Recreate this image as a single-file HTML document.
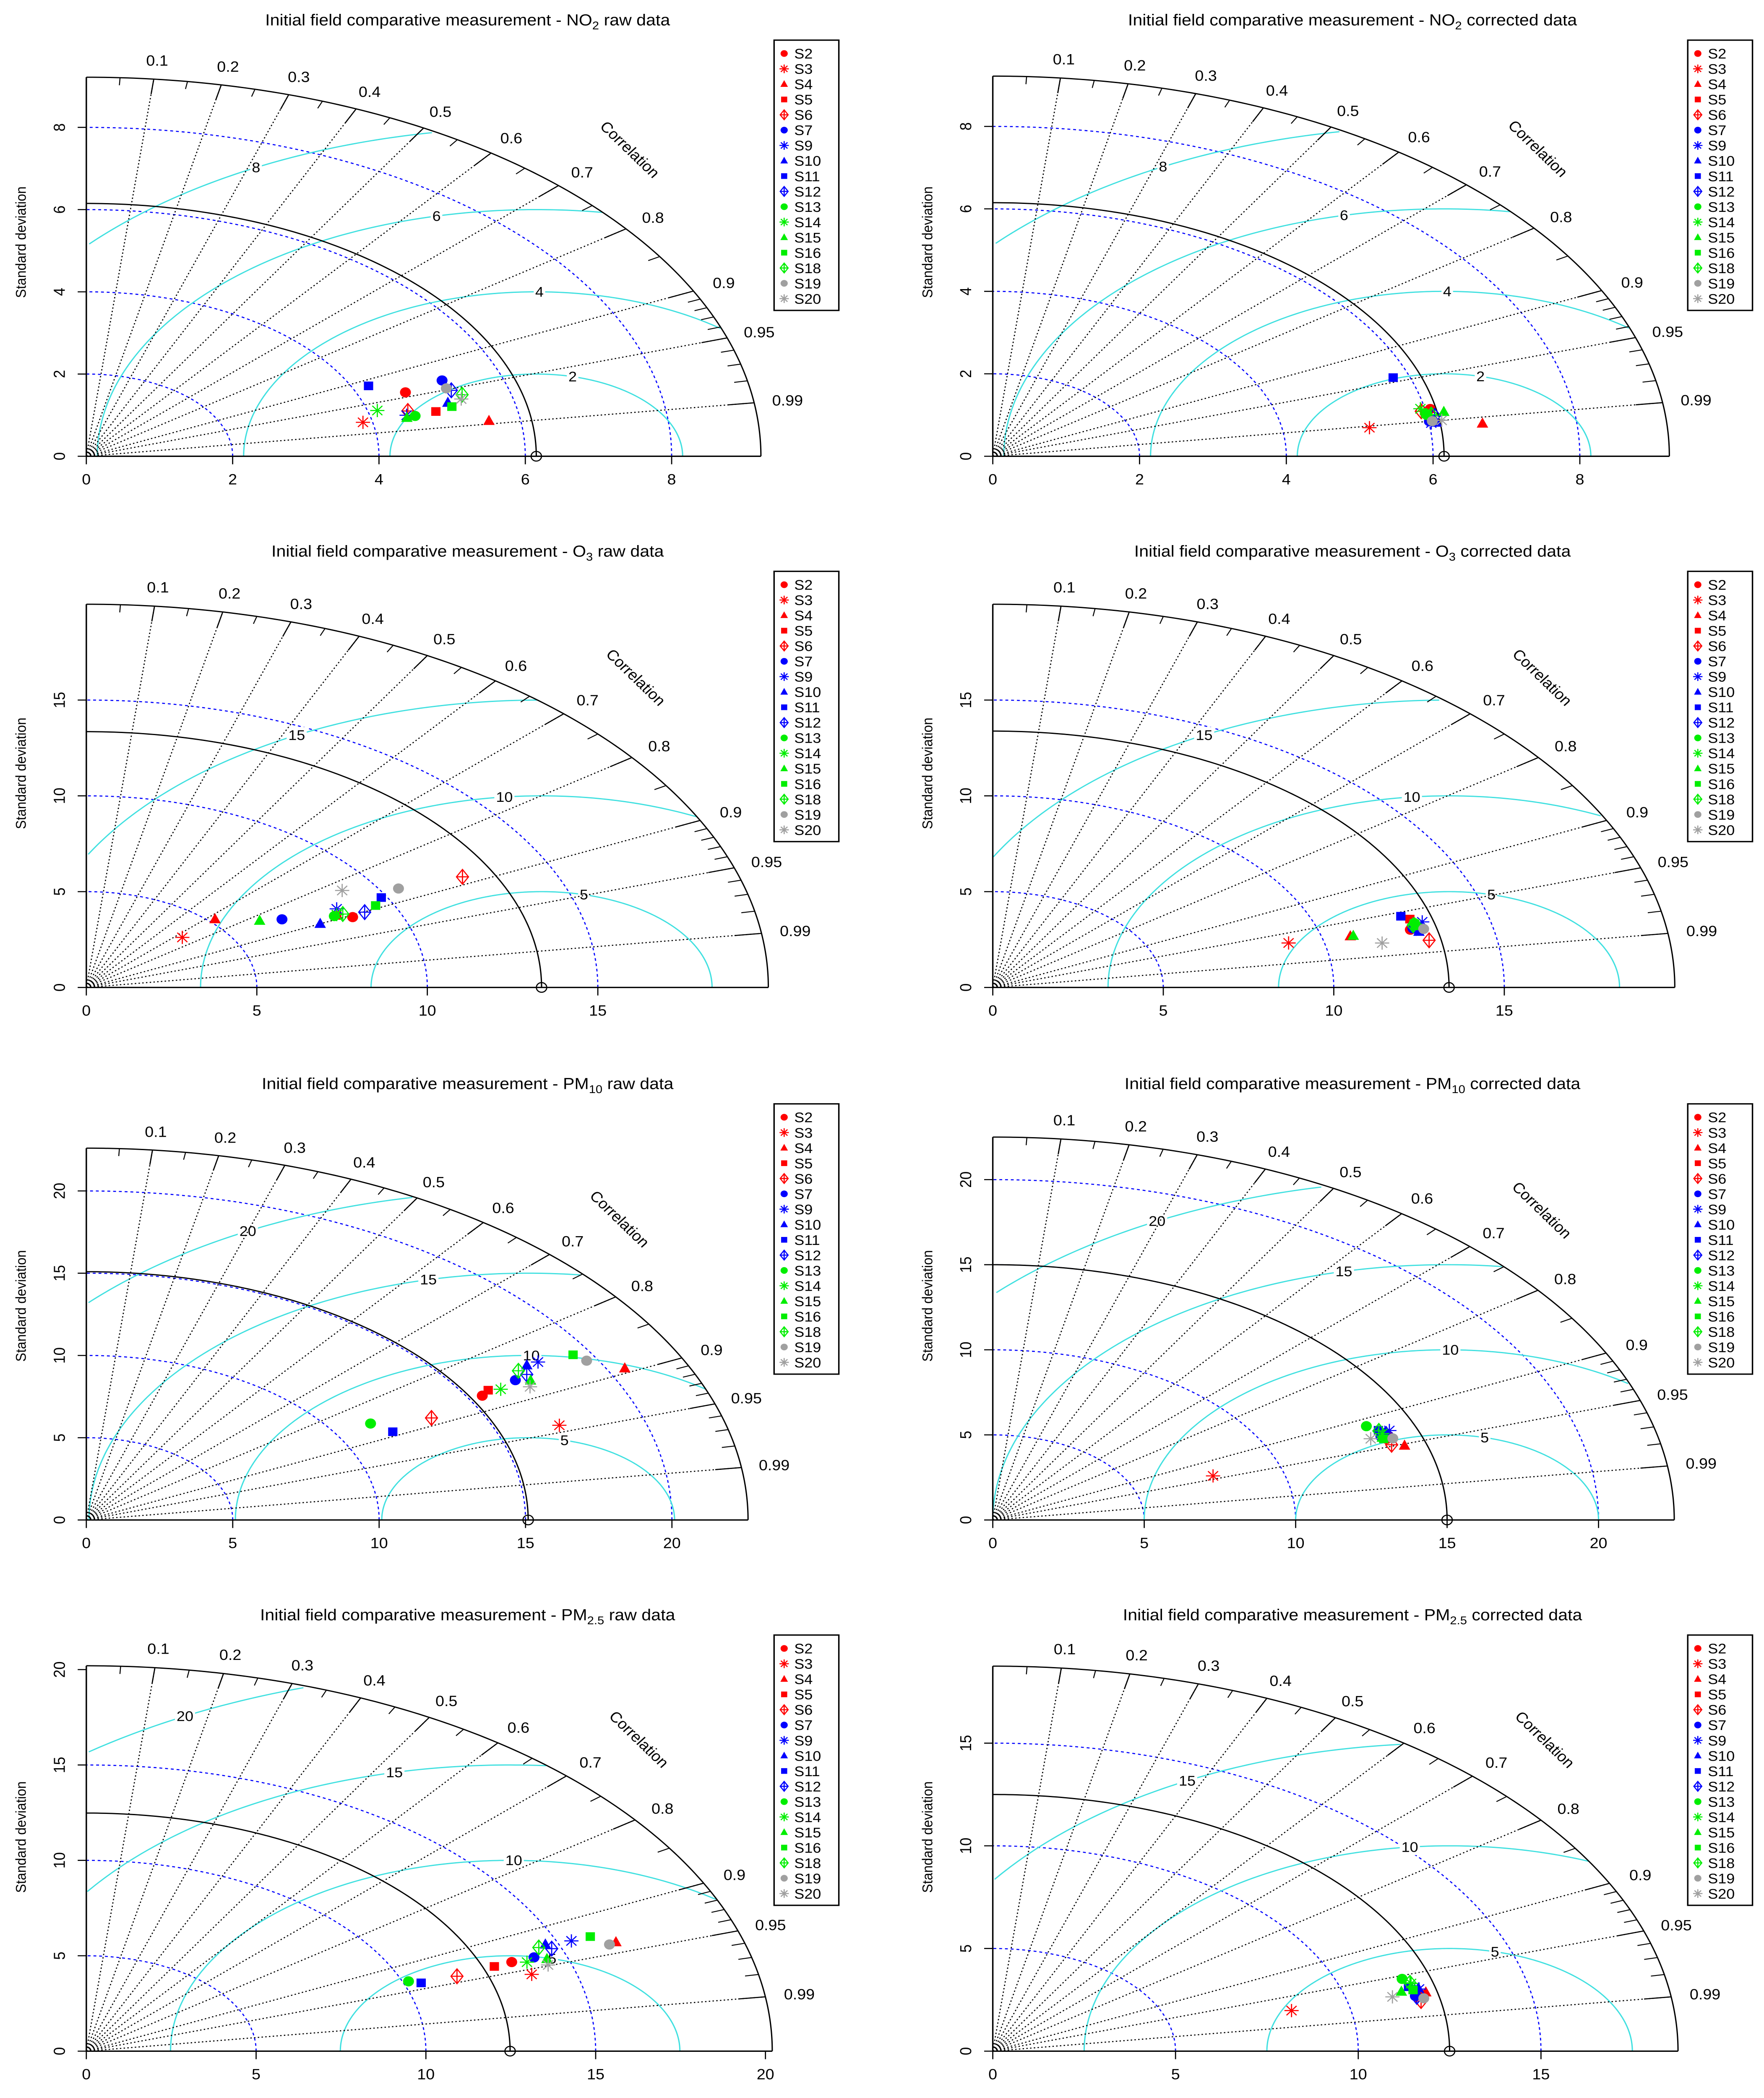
<!DOCTYPE html>
<html><head><meta charset="utf-8"><title>Taylor diagrams</title>
<style>html,body{margin:0;padding:0;background:#fff;width:100vw;height:100vh;overflow:hidden}svg{display:block;width:100vw;height:100vh;position:absolute;left:0;top:0}text{font-family:"Liberation Sans",Arial,sans-serif}</style>
</head><body>
<svg id="root" xmlns="http://www.w3.org/2000/svg" viewBox="0 0 1226 1568" preserveAspectRatio="none">
<rect x="0" y="0" width="1226" height="1568" fill="#fff"/>
</svg>
<script>
// ---- data ----
const stations = ["S2","S3","S4","S5","S6","S7","S9","S10","S11","S12","S13","S14","S15","S16","S18","S19","S20"];
const stationSymbols = ["c","*","t","s","d","c","*","t","s","d","c","*","t","s","d","c","*"];
const stationColors = ["#ff0000","#ff0000","#ff0000","#ff0000","#ff0000","#0000ff","#0000ff","#0000ff","#0000ff","#0000ff","#00ee00","#00ee00","#00ee00","#00ee00","#00ee00","#a0a0a0","#a0a0a0"];

const no2RawSD  = [4.63,3.87,5.57,4.90,4.53,5.20,4.49,5.11,4.22,5.24,4.60,4.13,4.48,5.14,5.35,5.19,5.31];
const no2RawCor = [0.942,0.977,0.988,0.975,0.970,0.935,0.975,0.967,0.914,0.952,0.977,0.963,0.978,0.972,0.960,0.948,0.965];
const no2CorSD  = [6.07,5.18,6.72,6.01,5.94,6.01,6.03,6.10,5.78,6.10,6.00,5.94,6.24,5.99,6.06,6.05,6.18];
const no2CorCor = [0.982,0.991,0.993,0.985,0.983,0.990,0.991,0.991,0.944,0.987,0.986,0.981,0.985,0.985,0.986,0.990,0.990];
const o3RawSD   = [8.63,3.84,5.19,8.25,12.45,6.75,8.41,7.62,9.84,9.06,8.17,8.27,6.16,9.50,8.44,10.51,9.05];
const o3RawCor  = [0.905,0.733,0.727,0.890,0.886,0.850,0.873,0.900,0.879,0.901,0.890,0.888,0.825,0.893,0.891,0.871,0.829];
const o3CorSD   = [12.61,8.98,10.82,12.74,13.03,12.70,13.05,12.83,12.53,12.80,12.81,12.81,10.91,12.81,12.75,13.00,11.65];
const o3CorCor  = [0.971,0.966,0.969,0.960,0.982,0.970,0.965,0.974,0.955,0.970,0.965,0.966,0.969,0.968,0.967,0.972,0.980];
const pm10RawSD = [15.49,17.15,20.57,15.83,13.32,16.94,18.17,17.74,11.76,17.45,11.34,16.23,17.38,19.42,17.32,19.64,17.18];
const pm10RawCor= [0.873,0.942,0.894,0.867,0.885,0.865,0.849,0.848,0.890,0.862,0.856,0.872,0.873,0.856,0.852,0.870,0.882];
const pm10CorSD = [13.85,7.72,14.28,13.94,13.89,13.72,14.11,13.99,13.78,13.88,13.51,13.83,13.74,13.76,13.78,14.05,13.36];
const pm10CorCor= [0.939,0.942,0.952,0.936,0.948,0.934,0.928,0.929,0.924,0.933,0.913,0.930,0.936,0.938,0.925,0.940,0.934];
const pm25RawSD = [13.37,13.72,16.61,12.81,11.60,14.07,15.41,14.63,10.49,14.72,10.17,13.79,14.40,16.01,14.39,16.39,14.33];
const pm25RawCor= [0.937,0.956,0.939,0.938,0.941,0.937,0.927,0.924,0.940,0.931,0.933,0.941,0.942,0.927,0.926,0.940,0.949];
const pm25CorSD = [12.02,8.41,12.19,11.94,11.97,11.87,12.05,12.04,11.80,11.90,11.74,11.91,11.55,11.88,11.89,12.07,11.25];
const pm25CorCor= [0.973,0.972,0.972,0.971,0.979,0.974,0.968,0.967,0.964,0.975,0.954,0.961,0.968,0.968,0.960,0.977,0.972];

const refSDs = [6.15,6.15,13.35,13.38,15.09,15.0,12.48,12.5];
const corTicks = [0.1,0.2,0.3,0.4,0.5,0.6,0.7,0.8,0.9,0.95,0.99];
const corMinor = [0.05,0.15,0.25,0.35,0.45,0.55,0.65,0.75,0.85,0.91,0.92,0.93,0.94,0.96,0.97,0.98];

// ---- layout ----
const panels = [
 {name:"no2-raw", sp:"NO", sub:"2", kind:"raw", ox:60, oy:341, sx:50.85, maxR:9.22, ticks:[0,2,4,6,8], gam:[2,4,6,8], sd:no2RawSD, cor:no2RawCor},
 {name:"no2-corrected", sp:"NO", sub:"2", kind:"corrected", ox:690, oy:341, sx:51.0, maxR:9.22, ticks:[0,2,4,6,8], gam:[2,4,6,8], sd:no2CorSD, cor:no2CorCor},
 {name:"o3-raw", sp:"O", sub:"3", kind:"raw", ox:60, oy:738, sx:23.7, maxR:20.0, ticks:[0,5,10,15], gam:[5,10,15], sd:o3RawSD, cor:o3RawCor},
 {name:"o3-corrected", sp:"O", sub:"3", kind:"corrected", ox:690, oy:738, sx:23.7, maxR:20.0, ticks:[0,5,10,15], gam:[5,10,15], sd:o3CorSD, cor:o3CorCor},
 {name:"pm10-raw", sp:"PM", sub:"10", kind:"raw", ox:60, oy:1136, sx:20.35, maxR:22.6, ticks:[0,5,10,15,20], gam:[5,10,15,20], sd:pm10RawSD, cor:pm10RawCor},
 {name:"pm10-corrected", sp:"PM", sub:"10", kind:"corrected", ox:690, oy:1136, sx:21.05, maxR:22.5, ticks:[0,5,10,15,20], gam:[5,10,15,20], sd:pm10CorSD, cor:pm10CorCor},
 {name:"pm25-raw", sp:"PM", sub:"2.5", kind:"raw", ox:60, oy:1533, sx:23.6, maxR:20.2, ticks:[0,5,10,15,20], gam:[5,10,15,20], sd:pm25RawSD, cor:pm25RawCor},
 {name:"pm25-corrected", sp:"PM", sub:"2.5", kind:"corrected", ox:690, oy:1533, sx:25.4, maxR:18.75, ticks:[0,5,10,15], gam:[5,10,15], sd:pm25CorSD, cor:pm25CorCor}
];
const ASPECT = 1.655;
const NS = "http://www.w3.org/2000/svg";
const root = document.getElementById("root");
function mk(tag, parent){ const e=document.createElementNS(NS,tag); parent.appendChild(e); return e; }
function set(e, o){ for (const k in o) e.setAttribute(k, o[k]); return e; }

function marker(g, pch, col, cx, cy, s){
  let e;
  if (pch==="c"){ e=mk("circle",g); set(e,{cx:cx,cy:cy,r:s,fill:col}); }
  else if (pch==="s"){ e=mk("rect",g); set(e,{x:cx-s*0.85,y:cy-s*0.85,width:s*1.7,height:s*1.7,fill:col}); }
  else if (pch==="t"){ e=mk("polygon",g); set(e,{points:(cx)+","+(cy-s*1.2)+" "+(cx-s*1.05)+","+(cy+s*0.8)+" "+(cx+s*1.05)+","+(cy+s*0.8),fill:col}); }
  else if (pch==="*"){
    e=mk("path",g); const L=s*1.3, D=L*0.7071;
    set(e,{d:"M"+(cx-L)+","+cy+"H"+(cx+L)+"M"+cx+","+(cy-L)+"V"+(cy+L)+"M"+(cx-D)+","+(cy-D)+"L"+(cx+D)+","+(cy+D)+"M"+(cx-D)+","+(cy+D)+"L"+(cx+D)+","+(cy-D),stroke:col,"stroke-width":0.8,fill:"none"});
  } else {
    e=mk("path",g); const H=s*1.45, W=s*1.1;
    set(e,{d:"M"+cx+","+(cy-H)+"L"+(cx+W)+","+cy+"L"+cx+","+(cy+H)+"L"+(cx-W)+","+cy+"Z M"+cx+","+(cy-H)+"V"+(cy+H)+"M"+(cx-W)+","+cy+"H"+(cx+W),stroke:col,"stroke-width":0.8,fill:"none"});
  }
  return e;
}

panels.forEach(function(p, pi){
  const sy = p.sx/ASPECT;
  const ref = refSDs[pi];
  const X = v => p.ox + v*p.sx;
  const Y = v => p.oy - v*sy;
  const g = mk("g", root);
  
  
  const left = p.ox < 600;
  const cxTitle = left ? 325 : 940;

  const t = mk("text", g);
  set(t,{x:cxTitle,y:p.oy-322,"text-anchor":"middle","font-size":12,fill:"#000"});
  
  
  const ts1 = mk("tspan", t); ts1.textContent = "Initial field comparative measurement - " + p.sp;
  const ts2 = mk("tspan", t); set(ts2,{"font-size":8.5,dy:3}); ts2.textContent = p.sub;
  const ts3 = mk("tspan", t); set(ts3,{dy:-3}); ts3.textContent = " " + p.kind + " data";

  p.ticks.forEach(function(v){
    if (v<=0 || v>=p.maxR-0.3) return;
    let d="";
    for (let i=0;i<=90;i++){ const a=i*Math.PI/180; d += (i?"L":"M")+X(v*Math.cos(a)).toFixed(2)+","+Y(v*Math.sin(a)).toFixed(2); }
    const e = mk("path", g); set(e,{d:d,fill:"none",stroke:"#0000ff","stroke-width":0.8,"stroke-dasharray":"2,2"});
    
    
  });

  const n = p.gam.length;
  p.gam.forEach(function(gm, gi){
    let d="", on=false;
    for (let i=0;i<=314;i++){
      const a=i*0.01, x=ref+gm*Math.cos(a), y=gm*Math.sin(a);
      if (x>=0 && x*x+y*y<=p.maxR*p.maxR){ d += (on?"L":"M")+X(x).toFixed(2)+","+Y(y).toFixed(2); on=true; } else on=false;
    }
    const e = mk("path", g); set(e,{d:d,fill:"none",stroke:"#40e0e0","stroke-width":0.9});
    
    
    const idx = Math.floor(45 + (n>1 ? gi*(25/(n-1)) : 0) + 1e-9);
    const a = (idx-1)*0.03, lx = ref+gm*Math.cos(a), ly = gm*Math.sin(a);
    if (lx>0){
      const s = String(gm);
      const bg = mk("rect", g); set(bg,{x:X(lx)-s.length*3-1,y:Y(ly)-6,width:s.length*6+2,height:12,fill:"#fff"});
      const lt = mk("text", g); set(lt,{x:X(lx),y:Y(ly)+3.6,"text-anchor":"middle","font-size":10.5,fill:"#000"});
      lt.textContent = s;
      
      
    }
  });

  corTicks.forEach(function(c){
    const a = Math.acos(c);
    const e = mk("line", g);
    set(e,{x1:X(0),y1:Y(0),x2:X(p.maxR*Math.cos(a)),y2:Y(p.maxR*Math.sin(a)),stroke:"#000","stroke-width":0.8,"stroke-dasharray":"1,1.6"});
    
    
    const tk = mk("line", g);
    set(tk,{x1:X(p.maxR*Math.cos(a)),y1:Y(p.maxR*Math.sin(a)),x2:X(0.96*p.maxR*Math.cos(a)),y2:Y(0.96*p.maxR*Math.sin(a)),stroke:"#000","stroke-width":0.8});
    const lb = mk("text", g);
    set(lb,{x:X(1.05*p.maxR*Math.cos(a)),y:Y(1.05*p.maxR*Math.sin(a))+4,"text-anchor":"middle","font-size":11,fill:"#000"});
    lb.textContent = String(c);
    
    
  });
  corMinor.forEach(function(c){
    const a = Math.acos(c);
    const tk = mk("line", g);
    set(tk,{x1:X(p.maxR*Math.cos(a)),y1:Y(p.maxR*Math.sin(a)),x2:X(0.98*p.maxR*Math.cos(a)),y2:Y(0.98*p.maxR*Math.sin(a)),stroke:"#000","stroke-width":0.7});
  });
  const ct = mk("text", g);
  const cx0 = X(0.8*p.maxR), cy0 = Y(0.8*p.maxR);
  set(ct,{x:cx0,y:cy0,"text-anchor":"middle","font-size":11,fill:"#000",transform:"rotate(46 "+cx0+" "+cy0+")"});
  ct.textContent = "Correlation";
  
  

  [[p.maxR,"outer-arc"],[ref,"reference-arc"]].forEach(function(r){
    let d="";
    for (let i=0;i<=180;i++){ const a=i*Math.PI/360; d += (i?"L":"M")+X(r[0]*Math.cos(a)).toFixed(2)+","+Y(r[0]*Math.sin(a)).toFixed(2); }
    const e = mk("path", g); set(e,{d:d,fill:"none",stroke:"#000","stroke-width":0.9});
    
    
  });

  const xa = mk("line", g); set(xa,{x1:X(0),y1:Y(0),x2:X(p.maxR),y2:Y(0),stroke:"#000","stroke-width":1});
  
  
  const ya = mk("line", g); set(ya,{x1:X(0),y1:Y(0),x2:X(0),y2:Y(p.maxR),stroke:"#000","stroke-width":1});
  
  
  p.ticks.forEach(function(v){
    const a = mk("line", g); set(a,{x1:X(v),y1:p.oy,x2:X(v),y2:p.oy+6,stroke:"#000","stroke-width":0.8});
    const at = mk("text", g); set(at,{x:X(v),y:p.oy+21,"text-anchor":"middle","font-size":11,fill:"#000"});
    at.textContent = String(v);
    
    
    const b = mk("line", g); set(b,{x1:p.ox-6,y1:Y(v),x2:p.ox,y2:Y(v),stroke:"#000","stroke-width":0.8});
    const bx = p.ox-15, by = Y(v);
    const bt = mk("text", g); set(bt,{x:bx,y:by,"text-anchor":"middle","font-size":11,fill:"#000",transform:"rotate(-90 "+bx+" "+by+")"});
    bt.textContent = String(v);
    
    
  });
  const ylx = p.ox-42, yly = p.oy-160;
  const yl = mk("text", g); set(yl,{x:ylx,y:yly,"text-anchor":"middle","font-size":10,fill:"#000",transform:"rotate(-90 "+ylx+" "+yly+")"});
  yl.textContent = "Standard deviation";
  
  

  const rp = mk("circle", g); set(rp,{cx:X(ref),cy:Y(0),r:3.6,fill:"none",stroke:"#000","stroke-width":0.8});
  
  

  stations.forEach(function(st, si){
    const sd = p.sd[si], c = p.cor[si], a = Math.acos(c);
    const m = marker(g, stationSymbols[si], stationColors[si], X(sd*Math.cos(a)), Y(sd*Math.sin(a)), 3.8);
    
    
  });

  const lx0 = left ? 538 : 1173, ly0 = p.oy-311;
  const lg = mk("g", g);
  
  
  const box = mk("rect", lg); set(box,{x:lx0,y:ly0,width:45,height:202,fill:"#fff",stroke:"#000","stroke-width":1});
  stations.forEach(function(st, si){
    const yy = ly0 + 10 + si*11.45;
    const mm = marker(lg, stationSymbols[si], stationColors[si], lx0+7, yy, 2.5);
    
    
    const tt = mk("text", lg); set(tt,{x:lx0+14,y:yy+3.8,"font-size":10.5,fill:"#000"});
    tt.textContent = st;
    
    
  });
});
</script>
</body></html>
